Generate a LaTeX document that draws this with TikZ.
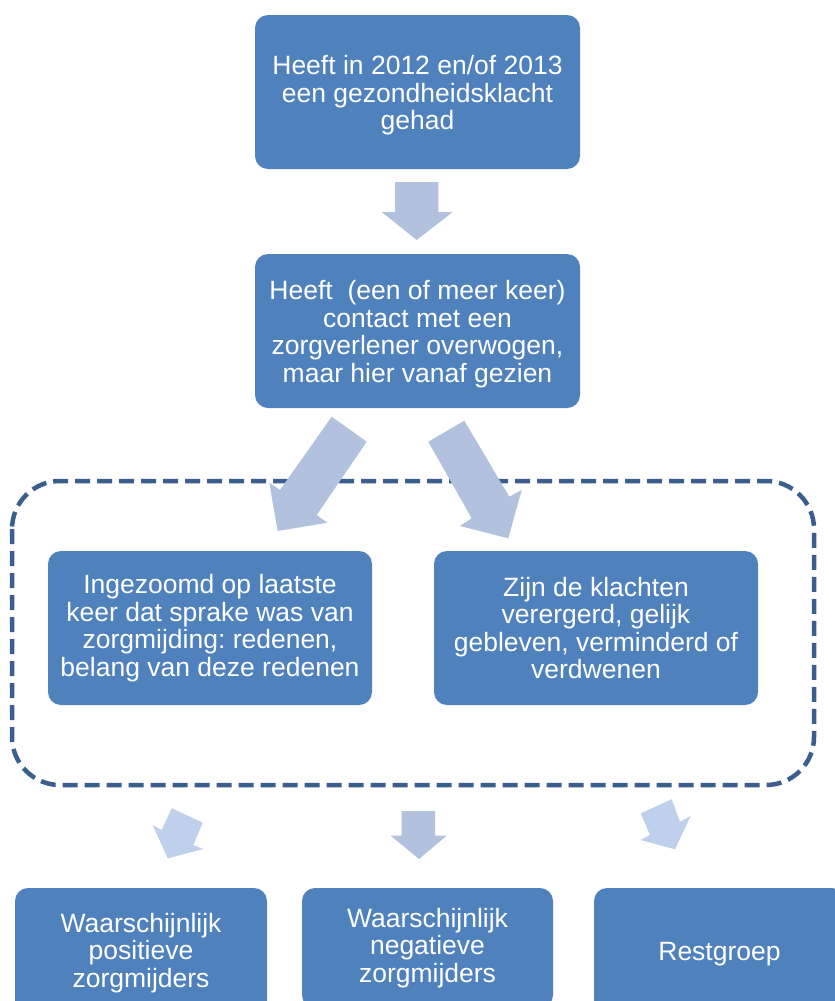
\documentclass[tikz,border=0pt]{standalone}
\usepackage{fontspec}
\setmainfont{Liberation Sans}
\frenchspacing
\definecolor{boxblue}{HTML}{4F81BD}
\definecolor{arrowblue}{HTML}{B2C2DE}
\definecolor{arrowlight}{HTML}{BED0EC}
\definecolor{dashblue}{HTML}{3A5F8F}
\newcommand\lowstrut{\rule{0pt}{25.5pt}}
\begin{document}
\begin{tikzpicture}[x=1pt,y=-1pt,
  box/.style={rectangle, rounded corners=13pt, fill=boxblue, text=white,
    align=center, inner sep=0pt, font=\fontsize{26.5}{27.5}\selectfont},
  blockarrow/.style={fill=arrowblue, draw=none},
  blockarrowlight/.style={fill=arrowlight, draw=none},
  groupline/.style={draw=dashblue, line width=4.5pt, dash pattern=on 15pt off 7pt, rounded corners=48pt}]
\clip (0,0) rectangle (835,1001);
\fill[white] (0,0) rectangle (835,1001);

% boxes
\node[box, minimum width=325pt, minimum height=154pt] (top) at (417.5,92) {\lowstrut Heeft in 2012 en/of 2013\\een gezondheidsklacht\\gehad};
\node[box, minimum width=325pt, minimum height=154pt] (consider) at (417.5,331) {\lowstrut Heeft~~(een of meer keer)\\contact met een\\zorgverlener overwogen,\\maar hier vanaf gezien};
\node[box, minimum width=324pt, minimum height=154pt] (reasons) at (210,628) {Ingezoomd op laatste\\keer dat sprake was van\\zorgmijding: redenen,\\belang van deze redenen};
\node[box, minimum width=324pt, minimum height=154pt] (course) at (596,628) {Zijn de klachten\\verergerd, gelijk\\gebleven, verminderd of\\verdwenen};
\node[box, minimum width=252pt, minimum height=130pt] (pos) at (141,953) {Waarschijnlijk\\positieve\\zorgmijders};
\node[box, minimum width=251pt, minimum height=120pt] (neg) at (427.5,948) {Waarschijnlijk\\negatieve\\zorgmijders};
\node[box, minimum width=251pt, minimum height=132pt] (rest) at (719.5,954) {Restgroep};

% dashed group
\draw[groupline] (12,481) rectangle (814,785);

% block arrows
\path[blockarrow] (395,182) -- (438.3,182) -- (438.3,212) -- (452.7,212) -- (416.7,240) -- (381.7,212) -- (395,212) -- cycle;
\path[blockarrow] (331.7,416.7) -- (366.7,441.7) -- (316.7,515) -- (327.3,522.7) -- (277.7,531) -- (269.3,482.7) -- (280,490) -- cycle;
\path[blockarrow] (428.3,441.7) -- (464.3,420.7) -- (509.3,496.7) -- (521.7,490) -- (508.3,538.3) -- (460,526) -- (471.7,518.3) -- cycle;
\path[blockarrowlight] (171.7,808.3) -- (202.7,822.7) -- (193.3,845) -- (203.3,849) -- (167.7,858.3) -- (152.7,825) -- (161.7,830) -- cycle;
\path[blockarrow] (401.7,811) -- (435,811) -- (435,835.7) -- (446.7,835.7) -- (419,859) -- (390.7,835.7) -- (401.7,835.7) -- cycle;
\path[blockarrowlight] (640.7,813.3) -- (671.7,799.3) -- (680,821.7) -- (690.7,816) -- (675,849.3) -- (640.7,840) -- (650,835) -- cycle;
\end{tikzpicture}
\end{document}
